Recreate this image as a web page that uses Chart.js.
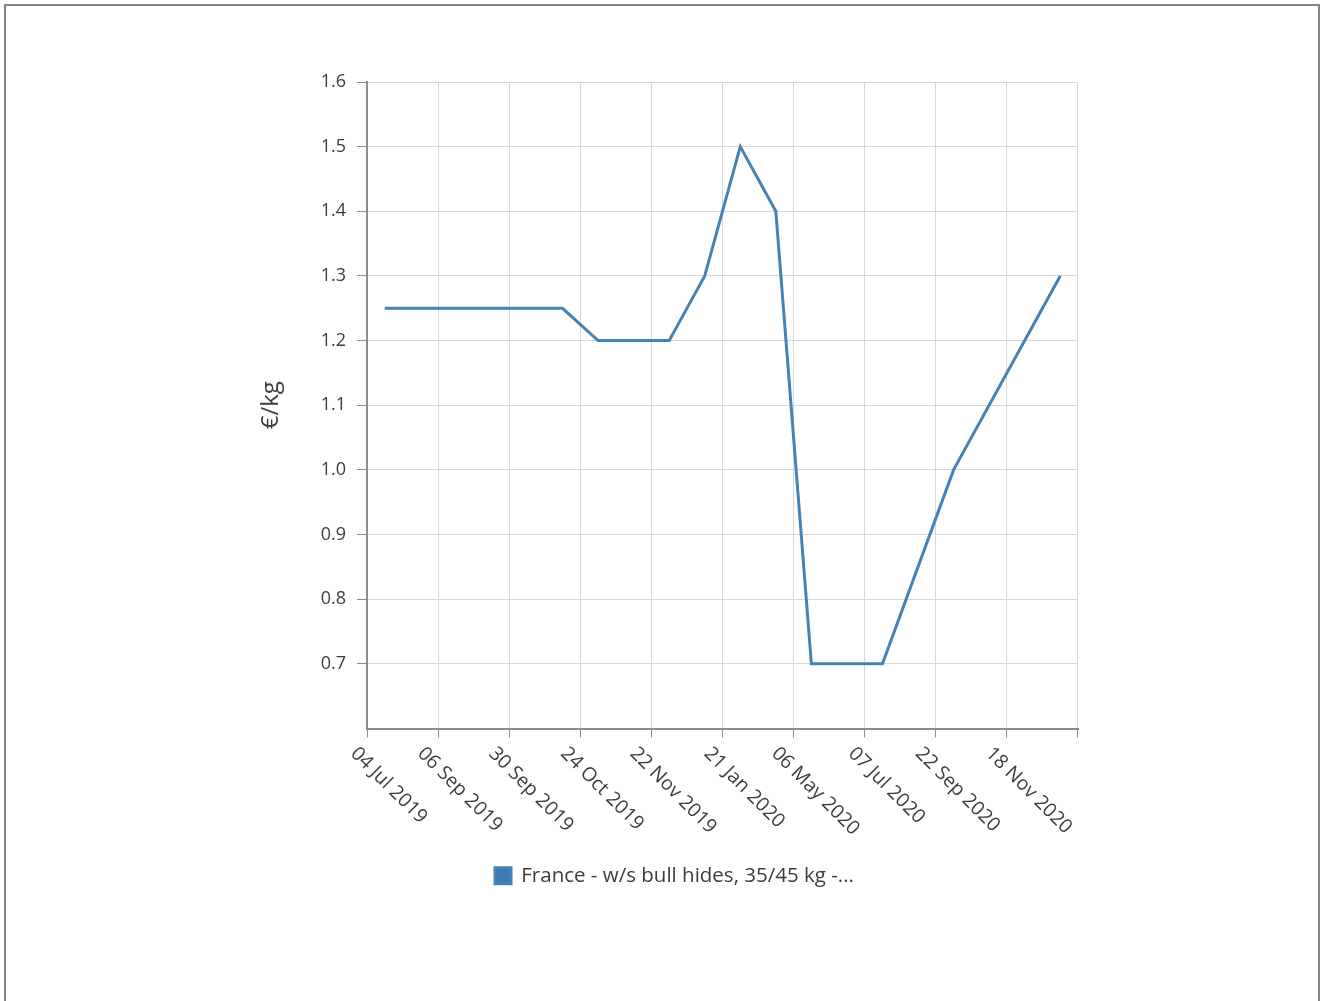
<!DOCTYPE html>
<html>
<head>
<meta charset="utf-8">
<script src="https://cdn.jsdelivr.net/npm/chart.js@4.4.1/dist/chart.umd.min.js"></script>
<style>
  html, body { margin: 0; padding: 0; background: #fff; }
  #frame { position: absolute; left: 4px; top: 4px; width: 1316px; height: 1010px; box-sizing: border-box; border: 2px solid #858585; }
  #wrap { position: absolute; left: 0; top: 0; width: 1322px; height: 1001px; }
</style>
</head>
<body>
<div id="frame"></div>
<div id="wrap"><canvas id="chart" width="1322" height="1001"></canvas></div>
<script>
// categories: every other date label is shown on the axis, the rest are unknown
var categories = [
  '04 Jul 2019', '', '06 Sep 2019', '', '30 Sep 2019', '', '24 Oct 2019', '',
  '22 Nov 2019', '', '21 Jan 2020', '', '06 May 2020', '', '07 Jul 2020', '',
  '22 Sep 2020', '', '18 Nov 2020', ''
];
var prices = [
  1.25, 1.25, 1.25, 1.25, 1.25, 1.25, 1.2, 1.2, 1.2, 1.3,
  1.5, 1.4, 0.7, 0.7, 0.7, null, 1.0, null, null, 1.3
];
var seriesName = 'France - w/s bull hides, 35/45 kg -...';
var yMin = 0.6, yMax = 1.6, yStep = 0.1;

var FONT = '"Open Sans", "Noto Sans", sans-serif';
var gridColor = '#d8d8d8';
var axisColor = '#8c8c8c';
var textColor = '#3d3d3d';

function everyOther(color) {
  return function (ctx) {
    return (ctx.index === undefined || ctx.index % 2 === 0) ? color : 'transparent';
  };
}

// kendo-style labels: rotated 45deg clockwise, hanging below the category
var rotatedLabels = {
  id: 'rotatedLabels',
  afterLayout: function (chart) {
    // legend sits a little right of the centre in the original
    if (chart.legend) { chart.legend.left += 8; chart.legend.right += 8; }
  },
  afterDraw: function (chart) {
    var sx = chart.scales.x;
    var c = chart.ctx;
    c.save();
    c.font = '19.5px ' + FONT;
    c.fillStyle = textColor;
    c.textAlign = 'center';
    c.textBaseline = 'middle';
    categories.forEach(function (lab, i) {
      if (!lab) { return; }
      var w = c.measureText(lab).width;
      var half = (w + 14) * Math.SQRT1_2 / 2;
      var cx = sx.getPixelForValue(i) + 4;
      var cy = sx.top + 17 + half;
      c.save();
      c.translate(cx, cy);
      c.rotate(Math.PI / 4);
      c.fillText(lab, 0, 0);
      c.restore();
    });
    c.restore();
  }
};

new Chart(document.getElementById('chart'), {
  type: 'line',
  data: {
    labels: categories,
    datasets: [{
      label: seriesName,
      data: prices,
      borderColor: '#4682b4',
      backgroundColor: '#3d7ab8',
      borderWidth: 3,
      pointRadius: 0,
      tension: 0,
      spanGaps: true
    }]
  },
  options: {
    responsive: false,
    animation: false,
    layout: { padding: { left: 255, top: 82, right: 244, bottom: 105 } },
    plugins: {
      tooltip: { enabled: false },
      legend: {
        position: 'bottom',
        labels: {
          color: textColor,
          font: { family: FONT, size: 20.5 },
          boxWidth: 16, boxHeight: 16, padding: 10
        }
      }
    },
    scales: {
      x: {
        offset: true,
        border: { color: axisColor, width: 2 },
        grid: { offset: true, color: everyOther(gridColor), tickColor: everyOther(axisColor), tickLength: 9 },
        ticks: { display: false },
        afterFit: function (s) { s.height = 127; }
      },
      y: {
        min: yMin, max: yMax,
        border: { color: axisColor, width: 2 },
        grid: {
          color: function (ctx) { return ctx.index === 0 ? 'transparent' : gridColor; },
          tickColor: function (ctx) { return ctx.index === 0 ? 'transparent' : axisColor; },
          tickLength: 10
        },
        ticks: {
          stepSize: yStep, padding: 11, color: textColor,
          font: { family: FONT, size: 18 },
          callback: function (v) { return v < yMin + 0.001 ? '' : v.toFixed(1); }
        },
        title: {
          display: true, text: '€/kg', color: textColor, padding: 2,
          font: { family: FONT, size: 24 }
        },
        afterFit: function (s) { s.width = 112; }
      }
    }
  },
  plugins: [rotatedLabels]
});
</script>
</body>
</html>
